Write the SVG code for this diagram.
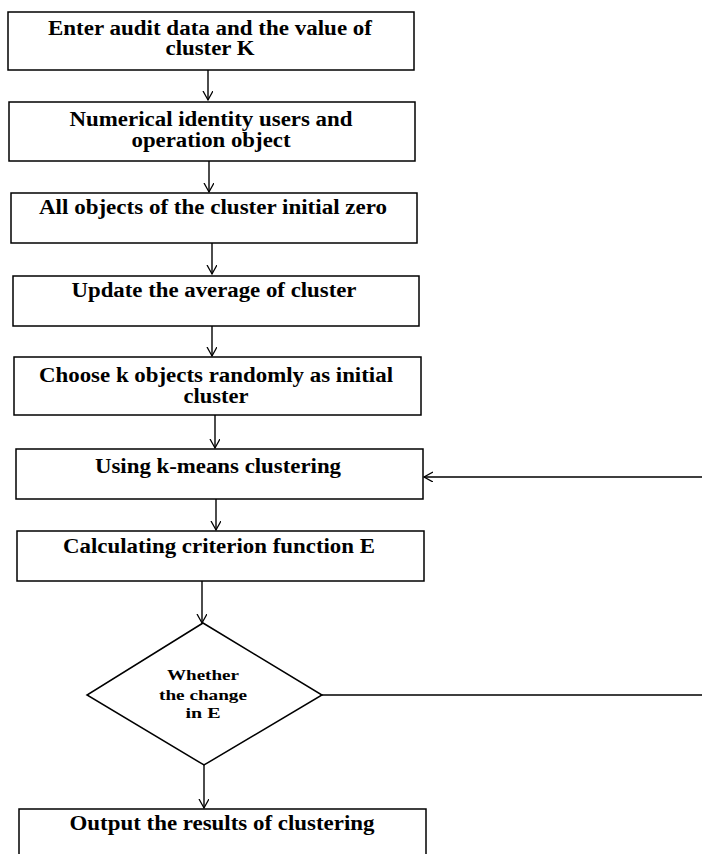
<svg xmlns="http://www.w3.org/2000/svg" width="702" height="854" viewBox="0 0 702 854">
<style>
.box{fill:#fff;stroke:#000;stroke-width:1.5}
.t{font-family:"Liberation Serif","Times New Roman",serif;font-weight:bold;font-size:20px;text-anchor:middle;fill:#000}
.s{font-size:15px}
.c{fill:none;stroke:#000;stroke-width:1.4}
</style>
<defs>
<marker id="ah" markerWidth="12" markerHeight="12" refX="9" refY="5" orient="auto" markerUnits="userSpaceOnUse">
<path d="M0,0 L9,5 L0,10" fill="none" stroke="#000" stroke-width="1.3"/>
</marker>
</defs>
<rect width="702" height="854" fill="#fff"/>
<g id="connectors">
<path class="c" d="M208,70 V100" marker-end="url(#ah)"/>
<path class="c" d="M209,161 V192" marker-end="url(#ah)"/>
<path class="c" d="M212,243 V274" marker-end="url(#ah)"/>
<path class="c" d="M212,326 V356" marker-end="url(#ah)"/>
<path class="c" d="M215,415 V448" marker-end="url(#ah)"/>
<path class="c" d="M216,499 V530" marker-end="url(#ah)"/>
<path class="c" d="M202,581 V623" marker-end="url(#ah)"/>
<path class="c" d="M204,765 V808" marker-end="url(#ah)"/>
<path class="c" d="M322,695 H712 V477 H424" marker-end="url(#ah)"/>
</g>
<g id="n1"><rect class="box" x="8" y="12" width="406" height="58"/>
<text class="t" x="210" y="35" textLength="324" lengthAdjust="spacingAndGlyphs">Enter audit data and the value of</text>
<text class="t" x="210" y="55" textLength="89" lengthAdjust="spacingAndGlyphs">cluster K</text></g>
<g id="n2"><rect class="box" x="9" y="102" width="406" height="59"/>
<text class="t" x="211" y="126" textLength="283" lengthAdjust="spacingAndGlyphs">Numerical identity users and</text>
<text class="t" x="211" y="147" textLength="159" lengthAdjust="spacingAndGlyphs">operation object</text></g>
<g id="n3"><rect class="box" x="11" y="193" width="406" height="50"/>
<text class="t" x="213" y="214" textLength="348" lengthAdjust="spacingAndGlyphs">All objects of the cluster initial zero</text></g>
<g id="n4"><rect class="box" x="13" y="276" width="406" height="50"/>
<text class="t" x="214" y="297" textLength="285" lengthAdjust="spacingAndGlyphs">Update the average of cluster</text></g>
<g id="n5"><rect class="box" x="14" y="357" width="407" height="58"/>
<text class="t" x="216" y="382" textLength="354" lengthAdjust="spacingAndGlyphs">Choose k objects randomly as initial</text>
<text class="t" x="216" y="403" textLength="65" lengthAdjust="spacingAndGlyphs">cluster</text></g>
<g id="n6"><rect class="box" x="16" y="449" width="407" height="50"/>
<text class="t" x="218" y="473" textLength="246" lengthAdjust="spacingAndGlyphs">Using k-means clustering</text></g>
<g id="n7"><rect class="box" x="17" y="531" width="407" height="50"/>
<text class="t" x="219" y="553" textLength="312" lengthAdjust="spacingAndGlyphs">Calculating criterion function E</text></g>
<g id="n8"><polygon class="box" points="203,623 322,695 204,765 87,695"/>
<text class="t s" x="203" y="680" textLength="72" lengthAdjust="spacingAndGlyphs">Whether</text>
<text class="t s" x="203" y="700" textLength="88" lengthAdjust="spacingAndGlyphs">the change</text>
<text class="t s" x="203" y="718" textLength="35" lengthAdjust="spacingAndGlyphs">in E</text></g>
<g id="n9"><rect class="box" x="19" y="809" width="407" height="60"/>
<text class="t" x="222" y="830" textLength="305" lengthAdjust="spacingAndGlyphs">Output the results of clustering</text></g>
</svg>
